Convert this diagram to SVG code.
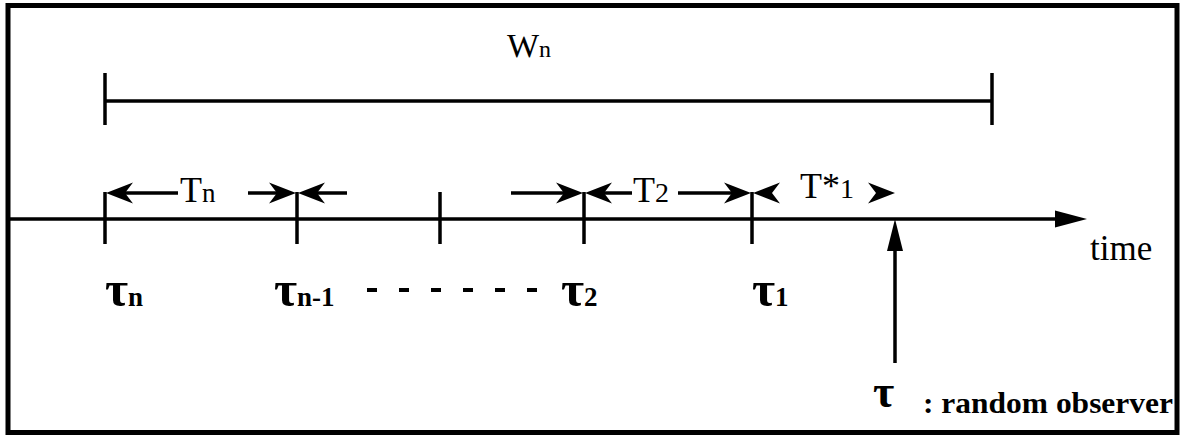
<svg xmlns="http://www.w3.org/2000/svg" width="1193" height="439" viewBox="0 0 1193 439">
<style>
.ln{stroke:#000;stroke-width:3.5;fill:none;stroke-linecap:butt}
.tk{stroke:#000;stroke-width:3.5;fill:none}
.hd{fill:#000;stroke:none}
.t{font-family:"Liberation Serif",serif;fill:#000}
.tb{font-family:"Liberation Serif",serif;font-weight:bold;fill:#000}
</style>
<defs>
<path id="ah" d="M0,0 L-27,-10.5 L-19,0 L-27,10.5 Z"/>
</defs>
<rect x="8" y="5.5" width="1169" height="427" fill="#fff" stroke="#000" stroke-width="5"/>
<g id="connectors">
<line class="ln" x1="105" y1="101" x2="992" y2="101"/>
<line class="tk" x1="105" y1="73" x2="105" y2="125"/>
<line class="tk" x1="992" y1="73" x2="992" y2="125"/>
<line class="ln" x1="10" y1="219" x2="1058" y2="219"/>
<path class="hd" d="M1087,219 L1055,210.5 L1055,227.5 Z"/>
<line class="tk" x1="105" y1="192" x2="105" y2="244"/>
<line class="tk" x1="297" y1="192" x2="297" y2="244"/>
<line class="tk" x1="440" y1="192" x2="440" y2="244"/>
<line class="tk" x1="584" y1="192" x2="584" y2="244"/>
<line class="tk" x1="752" y1="192" x2="752" y2="244"/>
<line class="ln" x1="120" y1="193" x2="178" y2="193"/>
<use href="#ah" transform="translate(106,193) scale(-1,1)" class="hd"/>
<line class="ln" x1="248" y1="193" x2="282" y2="193"/>
<use href="#ah" transform="translate(296,193)" class="hd"/>
<line class="ln" x1="312" y1="193" x2="347" y2="193"/>
<use href="#ah" transform="translate(298,193) scale(-1,1)" class="hd"/>
<line class="ln" x1="511" y1="193" x2="569" y2="193"/>
<use href="#ah" transform="translate(583,193)" class="hd"/>
<line class="ln" x1="600" y1="193" x2="632" y2="193"/>
<use href="#ah" transform="translate(585,193) scale(-1,1)" class="hd"/>
<line class="ln" x1="678" y1="193" x2="737" y2="193"/>
<use href="#ah" transform="translate(751,193)" class="hd"/>
<use href="#ah" transform="translate(753,193) scale(-1,1)" class="hd"/>
<use href="#ah" transform="translate(895,193)" class="hd"/>
<line class="ln" x1="895" y1="248" x2="895" y2="363"/>
<path class="hd" d="M895,219 L887,251 L903,251 Z"/>
<g stroke="#000" stroke-width="4">
<line x1="367" y1="290" x2="377" y2="290"/>
<line x1="399" y1="290" x2="409" y2="290"/>
<line x1="431" y1="290" x2="441" y2="290"/>
<line x1="463" y1="290" x2="473" y2="290"/>
<line x1="495" y1="290" x2="505" y2="290"/>
<line x1="527" y1="290" x2="537" y2="290"/>
</g>
</g>
<g id="label-Wn"><text class="t" x="507" y="57" font-size="34">W<tspan font-size="24">n</tspan></text></g>
<g id="label-Tn"><text class="t" x="180" y="202" font-size="36">T<tspan font-size="27">n</tspan></text></g>
<g id="label-T2"><text class="t" x="633" y="202" font-size="36">T<tspan font-size="28">2</tspan></text></g>
<g id="label-T1star"><text class="t" x="800" y="198" font-size="36">T*<tspan font-size="28">1</tspan></text></g>
<g id="label-time"><text class="t" x="1090" y="260" font-size="35">time</text></g>
<g id="label-tau-n"><text class="tb" x="105" y="306" font-size="50">τ<tspan font-size="27">n</tspan></text></g>
<g id="label-tau-n1"><text class="tb" x="274" y="306" font-size="50">τ<tspan font-size="27">n-1</tspan></text></g>
<g id="label-tau-2"><text class="tb" x="561" y="306" font-size="50">τ<tspan font-size="27">2</tspan></text></g>
<g id="label-tau-1"><text class="tb" x="752" y="306" font-size="50">τ<tspan font-size="27">1</tspan></text></g>
<g id="label-observer"><text class="tb" x="873" y="407" font-size="46">τ</text><text class="tb" x="923" y="413" font-size="30" textLength="250" lengthAdjust="spacingAndGlyphs">: random observer</text></g>
</svg>
